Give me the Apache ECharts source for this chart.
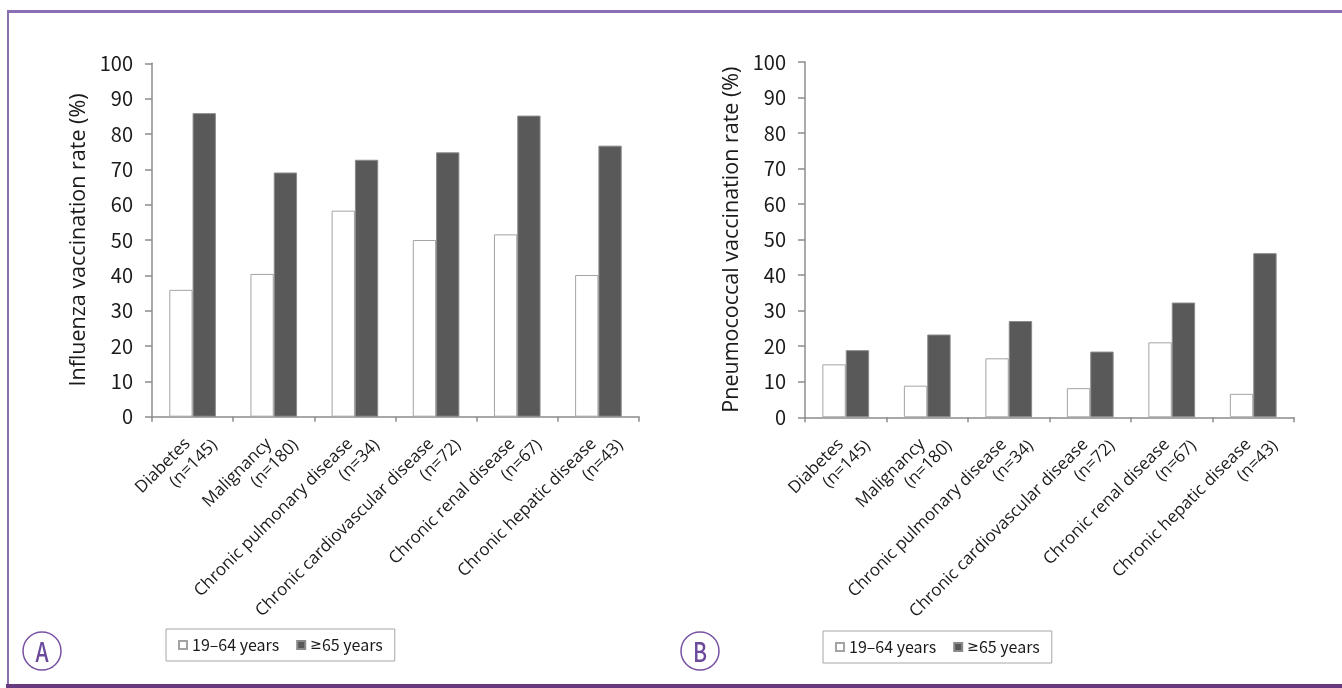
<!DOCTYPE html>
<html><head><meta charset="utf-8">
<script src="https://cdn.jsdelivr.net/npm/echarts@6/dist/echarts.min.js"></script>
<style>html,body{margin:0;padding:0;background:#fff}#c{width:1342px;height:688px}</style>
</head><body><div id="c"></div>
<script>
const categories = ['Diabetes','Malignancy','Chronic pulmonary disease','Chronic cardiovascular disease','Chronic renal disease','Chronic hepatic disease'];
const sampleSizes = ['(n=145)','(n=180)','(n=34)','(n=72)','(n=67)','(n=43)'];
const seriesNames = ['19\u201364 years','\u226565 years'];
const fluYoung = [35.9, 40.4, 58.3, 50.0, 51.6, 40.1];
const fluOld = [85.9, 69.1, 72.7, 74.8, 85.2, 76.7];
const pneuYoung = [14.9, 8.9, 16.6, 8.2, 21.1, 6.6];
const pneuOld = [18.9, 23.3, 27.1, 18.5, 32.3, 46.2];
const yTicks = [0,10,20,30,40,50,60,70,80,90,100];

const FONT = "'Open Sans', 'Noto Sans', sans-serif";
const NFONT = "'Noto Sans CJK KR', 'Noto Sans', sans-serif";
const axisGray = '#8c8c8c';
const labelCats = categories.map((c,i)=>c+'|'+sampleSizes[i]);

function xAxis(gridIndex){
  return {
    type:'category', gridIndex, data: labelCats,
    axisLine:{lineStyle:{color:axisGray,width:1.5}},
    axisTick:{show:true,length:5,lineStyle:{color:axisGray,width:1.5}},
    axisLabel:{
      interval:0, rotate:45, margin:4, color:'#1a1a1a',
      fontFamily:FONT, fontSize:17,
      formatter:(v)=>{const p=v.split('|');return '{s| }\n{a|'+p[0]+'}\n{b|'+p[1]+'}';},
      rich:{
        s:{height:42,lineHeight:42,fontSize:10},
        a:{fontFamily:FONT,fontSize:17,lineHeight:20,padding:[0,18,0,0],color:'#1a1a1a'},
        b:{fontFamily:FONT,fontSize:17,lineHeight:20,color:'#1a1a1a'}
      }
    }
  };
}
function yAxis(gridIndex,name){
  return {
    type:'value', gridIndex, min:0, max:100, interval:10,
    name, nameLocation:'middle', nameGap:62, nameRotate:90,
    nameTextStyle:{fontFamily:FONT,fontSize:21.5,color:'#1a1a1a'},
    axisLine:{show:true,lineStyle:{color:axisGray,width:1.5}},
    axisTick:{show:true,length:7,lineStyle:{color:axisGray,width:1.5}},
    splitLine:{show:false},
    axisLabel:{color:'#1a1a1a',fontFamily:NFONT,fontSize:20,margin:19,
      formatter:(v)=> yTicks.includes(v)? String(v):''}
  };
}
function bar(name,data,idx,dark){
  return {
    type:'bar', name, data, xAxisIndex:idx, yAxisIndex:idx,
    barGap:'0%', barCategoryGap:'42.6%',
    itemStyle:{color: dark?'#595959':'#ffffff', borderColor: dark?'#8a8a8a':'#a3a3a3', borderWidth:1},
    emphasis:{disabled:true}, animation:false
  };
}
function legend(left,top){
  return {
    left, top, data:seriesNames, icon:'rect', itemWidth:8, itemHeight:8, itemGap:17,
    padding:[8,12], borderColor:'#a6a6a6', borderWidth:1,
    formatter:(n)=>n.replace('\u2265','{g|\u2265}'),
    textStyle:{fontFamily:NFONT,fontSize:16,color:'#1a1a1a',
      rich:{g:{fontFamily:"'DejaVu Sans', sans-serif",fontSize:14,color:'#1a1a1a'}}},
    selectedMode:false
  };
}

const letterFont = "500 27px 'Noto Sans CJK KR', sans-serif";
const chart = echarts.init(document.getElementById('c'),null,{renderer:'canvas'});
chart.setOption({
  animation:false,
  backgroundColor:'#ffffff',
  grid:[
    {left:152,top:63.3,width:487,height:353.4},
    {left:805,top:62,width:489,height:355.3}
  ],
  xAxis:[xAxis(0),xAxis(1)],
  yAxis:[yAxis(0,'Influenza vaccination rate (%)'),yAxis(1,'Pneumococcal vaccination rate (%)')],
  legend:[legend(166,629),legend(823,631)],
  series:[
    bar(seriesNames[0],fluYoung,0,false),
    bar(seriesNames[1],fluOld,0,true),
    bar(seriesNames[0],pneuYoung,1,false),
    bar(seriesNames[1],pneuOld,1,true)
  ],
  graphic:[
    {type:'rect',shape:{x:7,y:10,width:1335,height:3},style:{fill:'#8a6fb2'},silent:true},
    {type:'rect',shape:{x:7,y:10,width:2,height:676},style:{fill:'#8a6fb2'},silent:true},
    {type:'rect',shape:{x:6,y:684,width:1336,height:4},style:{fill:'#66387f'},silent:true},
    {type:'circle',shape:{cx:42,cy:651,r:19},style:{fill:'none',stroke:'#7a52a3',lineWidth:1.5},silent:true},
    {type:'text',x:42,y:652,scaleX:0.78,style:{text:'A',fill:'#6b4a9c',font:letterFont,textAlign:'center',textVerticalAlign:'middle'},silent:true},
    {type:'circle',shape:{cx:700,cy:651,r:19},style:{fill:'none',stroke:'#7a52a3',lineWidth:1.5},silent:true},
    {type:'text',x:700,y:652,scaleX:0.78,style:{text:'B',fill:'#6b4a9c',font:letterFont,textAlign:'center',textVerticalAlign:'middle'},silent:true}
  ]
});
</script></body></html>
